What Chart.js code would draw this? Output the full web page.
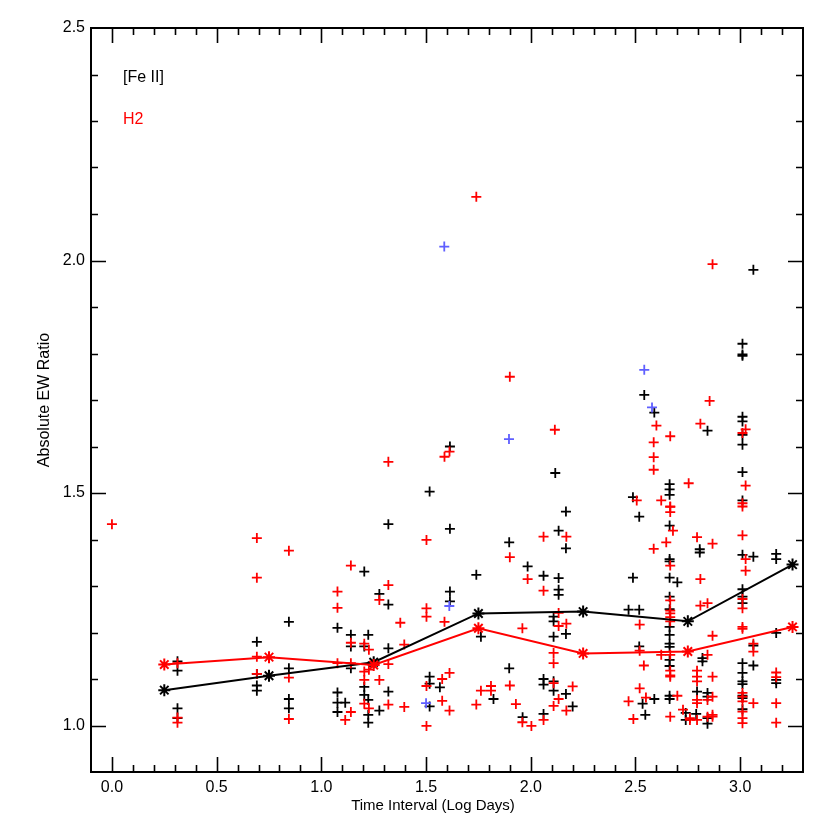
<!DOCTYPE html>
<html>
<head>
<meta charset="utf-8">
<script src="https://cdn.jsdelivr.net/npm/chart.js@4.4.1/dist/chart.umd.min.js"></script>
<style>
  html, body { margin: 0; padding: 0; background: #ffffff; }
  #wrap { width: 830px; height: 830px; }
</style>
</head>
<body>
<div id="wrap"><canvas id="c" width="830" height="830"></canvas></div>
<script>
// ---------- data ----------
const feX = [0.313,0.313,0.313,0.313, 0.692,0.692,0.692,0.692, 0.845,0.845,0.845,0.845,
  1.077,1.077,1.077,1.077, 1.114, 1.141,1.141,1.141, 1.205,1.205,1.205,1.205, 1.224,1.224,1.224,1.224,
  1.277,1.277, 1.32,1.32,1.32,1.32, 1.517,1.517,1.517,1.517, 1.566, 1.614,1.614,1.614,1.614,
  1.74, 1.762, 1.822, 1.897,1.897, 1.961, 1.985, 2.061,2.061,2.061,2.061, 2.117,
  2.133,2.133,2.133,2.133, 2.109,2.109,2.109,2.109,2.109, 2.168,2.168,2.168,2.168, 2.2,
  2.488,2.488, 2.467, 2.518,2.518,2.518, 2.542, 2.59, 2.59,2.534,2.547,
  2.663,2.663,2.663,2.663,2.663,2.663,2.663,2.663,2.663,2.663,2.663,2.663,2.663,2.663,2.663,2.663,2.663,
  2.7, 2.74,2.74, 2.807,2.807, 2.82,2.82,2.794,2.79, 2.844,2.844,2.844,2.844,2.844,
  3.011,3.011,3.011,3.011,3.011,3.011,3.011,3.011,3.011,3.011,3.011,3.011,3.011,3.011,3.011,3.011,3.011,3.011,3.011,3.011,
  3.063,3.063,3.063,3.063, 3.172,3.172,3.172,3.172,3.172];
const feY = [1.138,1.118,1.037,1.016, 1.180,1.111,1.086,1.075, 1.223,1.123,1.057,1.037,
  1.210,1.071,1.049,1.029, 1.049, 1.195,1.170,1.123, 1.331,1.170,1.083,1.066, 1.195,1.055,1.023,1.006,
  1.283,1.032, 1.433,1.260,1.166,1.073, 1.503,1.105,1.090,1.041, 1.082, 1.600,1.423,1.288,1.267,
  1.324, 1.191, 1.057, 1.394,1.123, 1.018, 1.342, 1.322,1.100,1.088,1.025, 1.543,
  1.419,1.317,1.292,1.281, 1.234,1.224,1.191,1.095,1.075, 1.460,1.381,1.197,1.068, 1.041,
  1.491,1.318, 1.249, 1.449,1.249,1.170, 1.711, 1.673, 1.057,1.047,1.023,
  1.519,1.508,1.496,1.430,1.358,1.353,1.318,1.277,1.250,1.212,1.195,1.176,1.169,1.141,1.128,1.064,1.057,
  1.308, 1.027,1.012, 1.379,1.372, 1.145,1.138,1.073,1.025, 1.634,1.070,1.062,1.016,1.004,
  1.821,1.798,1.795,1.664,1.654,1.625,1.604,1.545,1.484,1.367,1.293,1.277,1.263,1.134,1.113,1.095,1.089,1.064,1.059,1.035,
  1.980,1.363,1.172,1.129, 1.369,1.358,1.199,1.098,1.091];

const h2X = [0.0, 0.313,0.313,0.313, 0.692,0.692,0.692,0.692, 0.845,0.845,0.845,
  1.077,1.077,1.077, 1.114, 1.141,1.141,1.141,1.141, 1.205,1.205,1.205,1.205, 1.227,1.227,1.227,
  1.277,1.277, 1.32,1.32,1.32,1.32, 1.377, 1.396,1.396, 1.502,1.502,1.502,1.502,1.502,
  1.577,1.577, 1.588,1.588, 1.612,1.612,1.612, 1.74,1.74, 1.762, 1.81,1.81, 1.90,1.90,1.90, 1.929,
  1.96,1.96, 1.985, 2.003, 2.061,2.061,2.061, 2.115, 2.133,2.133,2.133, 2.109,2.109,2.109,2.109,
  2.17,2.17,2.17, 2.2,
  2.506, 2.52, 2.52, 2.467, 2.49, 2.54, 2.52, 2.55, 2.587,2.587,2.587,2.587, 2.6, 2.623,2.623,
  2.666,2.666,2.666,2.666,2.666,2.666,2.666,2.666,2.666,2.666,2.666,2.666,2.666,2.666,2.666,
  2.647, 2.679, 2.7, 2.754, 2.727, 2.76,2.76,
  2.794,2.794,2.794,2.794,2.794,2.794,2.794, 2.81,2.81,2.81, 2.844,2.844,2.844,2.844, 2.854,
  2.868,2.868,2.868,2.868,2.868,2.868,2.868,
  3.011,3.011,3.011,3.011,3.011,3.011,3.011,3.011,3.011,3.011,3.011,3.011,3.011,3.011,
  3.026,3.026,3.026,3.026, 3.063,3.063,3.063, 3.172,3.172,3.172,3.172];
const h2Y = [1.433, 1.134,1.017,1.006, 1.403,1.318,1.148,1.111, 1.376,1.103,1.014,
  1.288,1.253,1.134, 1.012, 1.344,1.178,1.134,1.029, 1.176,1.116,1.098,1.047, 1.163,1.120,1.037,
  1.270,1.098, 1.567,1.302,1.132,1.045, 1.221, 1.174,1.040, 1.399,1.252,1.234,1.085,0.999,
  1.100,1.053, 1.578,1.223, 1.589,1.113,1.032, 2.137,1.045, 1.075, 1.085,1.075, 1.750,1.362,1.086, 1.046,
  1.209,1.007, 1.315, 0.999, 1.406,1.290,1.012, 1.636, 1.242,1.214,1.057, 1.156,1.134,1.091,1.042,
  1.406,1.219,1.032, 1.084,
  1.484, 1.217, 1.161, 1.052, 1.014, 1.129, 1.080, 1.060, 1.609,1.577,1.550,1.380, 1.645, 1.484,1.152,
  1.622,1.471,1.470,1.459,1.344,1.269,1.247,1.241,1.233,1.224,1.152,1.118,1.108,1.105,1.019,
  1.394, 1.419, 1.064, 1.521, 1.034, 1.016,1.012,
  1.405,1.118,1.105,1.095,1.055,1.048,1.012, 1.649,1.315,1.258, 1.263,1.152,1.055,1.019, 1.698,
  1.992,1.391,1.193,1.105,1.062,1.023,1.019,
  1.629,1.478,1.471,1.409,1.272,1.252,1.212,1.208,1.070,1.062,1.052,1.030,1.016,1.005,
  1.637,1.516,1.358,1.333, 1.176,1.159,1.048, 1.114,1.104,1.048,1.006];

const blueX = [1.587, 1.896, 2.542, 2.579, 1.611, 1.50];
const blueY = [2.030, 1.616, 1.765, 1.684, 1.257, 1.048];

const binX = [0.25, 0.75, 1.25, 1.75, 2.25, 2.75, 3.25];
const feMean = [1.076, 1.107, 1.136, 1.241, 1.245, 1.224, 1.346];
const h2Mean = [1.131, 1.147, 1.130, 1.209, 1.155, 1.159, 1.212];

const xTickLabels = [0.0, 0.5, 1.0, 1.5, 2.0, 2.5, 3.0];
const yTickLabels = [1.0, 1.5, 2.0, 2.5];
const legendNames = ['[Fe II]', 'H2'];
const xTitle = 'Time Interval (Log Days)';
const yTitle = 'Absolute EW Ratio';

// ---------- helpers ----------
const pts = (xs, ys) => xs.map((x, i) => ({x: x, y: ys[i]}));
const RED = '#ff0000', BLACK = '#000000', BLUE = 'rgb(95,95,255)';
const FONT = '"Liberation Sans", Arial, sans-serif';

// inward tick marks on all four sides (IDL style), frame, legend text, x title
const idlTicks = {
  id: 'idlTicks',
  afterDraw(chart) {
    const {ctx, chartArea: a, scales: {x, y}} = chart;
    ctx.save();
    ctx.strokeStyle = '#000';
    ctx.lineWidth = 1.6;
    const big = 15, small = 7;
    for (let k = -1; k <= 33; k++) {
      const v = k / 10;
      if (v <= x.min || v >= x.max) continue;
      const px = Math.round(x.getPixelForValue(v)) + 0.5;
      const L = (k % 5 === 0) ? big : small;
      ctx.beginPath();
      ctx.moveTo(px, a.bottom); ctx.lineTo(px, a.bottom - L);
      ctx.moveTo(px, a.top); ctx.lineTo(px, a.top + L);
      ctx.stroke();
    }
    for (let k = 9; k <= 25; k++) {
      const v = k / 10;
      if (v <= y.min || v >= y.max) continue;
      const py = Math.round(y.getPixelForValue(v)) + 0.5;
      const L = (k % 5 === 0) ? big : small;
      ctx.beginPath();
      ctx.moveTo(a.left, py); ctx.lineTo(a.left + L, py);
      ctx.moveTo(a.right, py); ctx.lineTo(a.right - L, py);
      ctx.stroke();
    }
    ctx.lineWidth = 2;
    ctx.strokeRect(a.left, a.top, a.right - a.left, a.bottom - a.top);
    // legend text
    ctx.font = '16px ' + FONT;
    ctx.textBaseline = 'middle';
    ctx.textAlign = 'left';
    ctx.fillStyle = BLACK;
    ctx.fillText(legendNames[0], a.left + 32, a.top + 50);
    ctx.fillStyle = RED;
    ctx.fillText(legendNames[1], a.left + 32, a.top + 92);
    // x axis title (slightly left of centre, as in the reference)
    ctx.fillStyle = BLACK;
    ctx.font = '15px ' + FONT;
    ctx.textAlign = 'center';
    ctx.fillText(xTitle, a.left + (a.right - a.left) / 2 - 14, 806);
    ctx.restore();
  }
};

new Chart(document.getElementById('c'), {
  type: 'scatter',
  data: {
    datasets: [
      { label: 'H2 mean', type: 'line', data: pts(binX, h2Mean), borderColor: RED, backgroundColor: RED,
        borderWidth: 2, pointStyle: 'star', pointRadius: 6, pointBorderWidth: 2, tension: 0, order: 0 },
      { label: 'Fe mean', type: 'line', data: pts(binX, feMean), borderColor: BLACK, backgroundColor: BLACK,
        borderWidth: 2, pointStyle: 'star', pointRadius: 6, pointBorderWidth: 2, tension: 0, order: 1 },
      { label: 'blue', data: pts(blueX, blueY), borderColor: BLUE, pointStyle: 'cross',
        pointRadius: 5, pointBorderWidth: 1.8, order: 2 },
      { label: 'H2', data: pts(h2X, h2Y), borderColor: RED, pointStyle: 'cross',
        pointRadius: 5, pointBorderWidth: 1.8, order: 3 },
      { label: '[Fe II]', data: pts(feX, feY), borderColor: BLACK, pointStyle: 'cross',
        pointRadius: 5, pointBorderWidth: 1.8, order: 4 }
    ]
  },
  options: {
    responsive: false,
    animation: false,
    devicePixelRatio: 1,
    layout: { padding: { left: 0, top: 28, right: 27, bottom: 0 } },
    plugins: { legend: { display: false }, tooltip: { enabled: false } },
    scales: {
      x: {
        type: 'linear', min: -0.1, max: 3.3,
        grid: { display: false, drawTicks: false },
        border: { display: false },
        afterBuildTicks: (s) => { s.ticks = xTickLabels.map(v => ({value: v})); },
        afterFit: (s) => { s.height = 58; },
        ticks: { padding: 6, color: '#000', font: { family: FONT, size: 16 },
          maxRotation: 0, autoSkip: false, callback: (v) => Number(v).toFixed(1) },
        title: { display: false }
      },
      y: {
        type: 'linear', min: 0.9, max: 2.5,
        grid: { display: false, drawTicks: false },
        border: { display: false },
        afterBuildTicks: (s) => { s.ticks = yTickLabels.map(v => ({value: v})); },
        afterFit: (s) => { s.width = 91; },
        ticks: { padding: 6, color: '#000', font: { family: FONT, size: 16 },
          autoSkip: false, callback: (v) => Number(v).toFixed(1) },
        title: { display: true, text: yTitle, color: '#000',
          font: { family: FONT, size: 16 }, padding: { top: 35, bottom: 0 } }
      }
    }
  },
  plugins: [idlTicks]
});
</script>
</body>
</html>
